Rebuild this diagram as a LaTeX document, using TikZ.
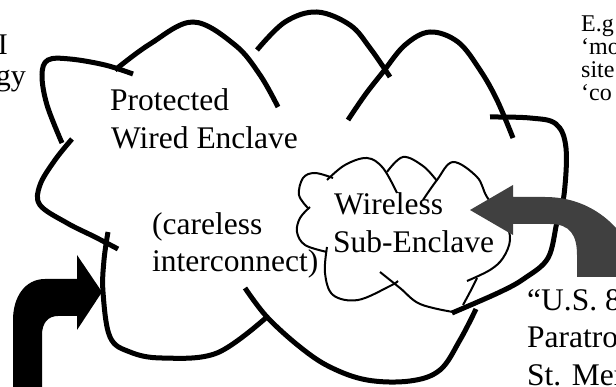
\documentclass[tikz,border=0pt]{standalone}
\usepackage{fontspec}
\setmainfont{Liberation Serif}
\tikzset{
  bigline/.style={line width=5pt, black},
  smallline/.style={line width=2pt, black},
  lobe/.style={smooth, tension=0.6},
  bigtxt/.style={font=\fontsize{31.5}{37}\selectfont, inner sep=0pt, anchor=base west},
  sidetxt/.style={font=\fontsize{30}{35}\selectfont, inner sep=0pt, anchor=base east},
  notetxt/.style={font=\fontsize{24}{23}\selectfont, inner sep=0pt, anchor=base west},
}
\definecolor{arrowgray}{RGB}{64,64,64}
\begin{document}
\begin{tikzpicture}[x=1pt,y=-1pt]
\useasboundingbox (0,0) rectangle (616,387);
\clip (0,0) rectangle (616,387);

% big cloud (thick lobes)
\draw[bigline] plot[lobe] coordinates {(133,74) (105,65) (70,59) (48,60) (42,75) (47,105) (62,143)};
\draw[bigline] plot[lobe] coordinates {(72,139) (55,160) (40,185) (40,205) (67,223) (95,237) (118,249)};
\draw[bigline] plot[lobe] coordinates {(108,232) (104,260) (103,292) (110,337) (130,352) (162,358) (217,353) (268,316)};
\draw[bigline] plot[lobe] coordinates {(245,288) (267,317) (300,347) (330,367) (367,380) (410,381) (440,370) (460,340) (476,309)};
\draw[bigline] plot[lobe] coordinates {(490,117) (530,118) (556,124) (566,148) (564,195) (557,222) (548,258) (525,278) (500,292) (452,313)};
\draw[bigline] plot[lobe] coordinates {(348,120) (365,95) (383,72) (405,45) (430,32) (458,42) (480,70) (497,100) (513,138)};
\draw[bigline] plot[lobe] coordinates {(257,50) (285,22) (317,12) (350,25) (370,48) (390,77)};
\draw[bigline] plot[lobe] coordinates {(115,70) (150,44) (193,22) (235,45) (260,75) (278,107)};

% small cloud (thin lobes)
\draw[smallline] plot[lobe] coordinates {(327,180) (345,165) (367,158) (383,168) (397,193)};
\draw[smallline] plot[lobe] coordinates {(387,172) (403,157) (423,166) (437,181)};
\draw[smallline] plot[lobe] coordinates {(423,200) (437,180) (453,162) (477,177) (487,197) (505,222) (510,240) (503,258) (490,270) (467,281)};
\draw[smallline] plot[lobe] coordinates {(477,278) (470,292) (463,305)};
\draw[smallline] plot[lobe] coordinates {(380,272) (400,288) (420,304) (453,312)};
\draw[smallline] plot[lobe] coordinates {(327,247) (325,273) (333,295) (358,300) (390,286) (398,281)};
\draw[smallline] plot[lobe] coordinates {(333,178) (315,173) (303,178) (299,195) (308,208)};
\draw[smallline] plot[lobe] coordinates {(310,207) (300,218) (297,232) (305,245) (327,252)};

% block arrows
\fill[black] (13,390) -- (13,320) .. controls (13,297) and (25,279) .. (45,279)
  -- (77,279) -- (77,255) -- (102,292) -- (77,330) -- (77,316) -- (58,316)
  .. controls (48,316) and (42,323) .. (42,335) -- (42,390) -- cycle;
\fill[arrowgray] (577,277) -- (577,255) .. controls (577,235) and (570,224) .. (550,224)
  -- (513,224) -- (513,235) -- (470,210) -- (513,185) -- (513,197) -- (545,197)
  .. controls (590,197) and (625,225) .. (640,270) -- (640,277) -- cycle;

% texts
\node[bigtxt] (prot1) at (110,111) {Protected};
\node[bigtxt] (prot2) at (111,149) {Wired Enclave};
\node[bigtxt] (care1) at (152,235) {(careless};
\node[bigtxt] (care2) at (152,272) {interconnect)};
\node[bigtxt] (wire1) at (334,215) {Wireless};
\node[bigtxt] (wire2) at (333,253) {Sub-Enclave};
\node[bigtxt] (us1) at (527,311) {“U.S. 8};
\node[bigtxt] (us2) at (527,348) {Paratro};
\node[bigtxt] (us3) at (527,385) {St. Mer};
\node[sidetxt] (left1) at (8,55) {I};
\node[sidetxt] (left2) at (26,86) {gy};
\node[notetxt] (eg1) at (581,32) {E.g};
\node[notetxt] (eg2) at (581,55) {‘mo};
\node[notetxt] (eg3) at (581,78) {site};
\node[notetxt] (eg4) at (581,101) {‘co};
\end{tikzpicture}
\end{document}
